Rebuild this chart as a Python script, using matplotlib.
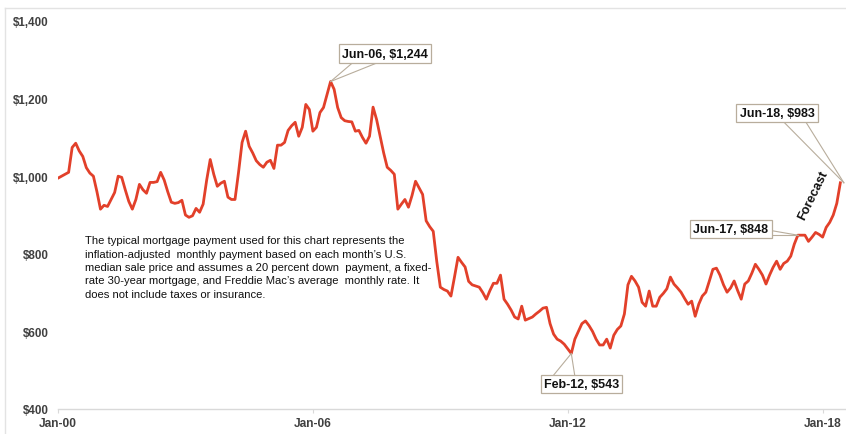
import numpy as np
import matplotlib.pyplot as plt
from matplotlib.lines import Line2D

# monthly typical mortgage payment, Jan-00 .. Jun-18 (last 12 months = forecast)
payment = [
    995, 1000, 1005, 1010, 1074, 1085, 1065, 1051, 1022, 1008, 1000, 960,    # 2000
    915, 925, 922, 940, 958, 1000, 997, 965, 935, 915, 940, 979,             # 2001
    965, 956, 984, 984, 986, 1010, 990, 960, 933, 930, 932, 938,             # 2002
    900, 894, 898, 917, 907, 928, 990, 1043, 1005, 974, 982, 987,            # 2003
    946, 940, 940, 1010, 1087, 1116, 1077, 1060, 1040, 1030, 1023, 1036,     # 2004
    1041, 1020, 1080, 1080, 1087, 1118, 1130, 1139, 1103, 1126, 1185, 1172,  # 2005
    1116, 1126, 1164, 1177, 1210, 1244, 1224, 1177, 1151, 1143, 1141, 1140,  # 2006
    1116, 1118, 1100, 1085, 1103, 1178, 1146, 1103, 1060, 1023, 1015, 1005,  # 2007
    915, 928, 940, 920, 950, 987, 970, 953, 885, 870, 858, 780,              # 2008
    714, 708, 704, 691, 740, 791, 778, 766, 729, 720, 717, 714,              # 2009
    700, 683, 705, 724, 724, 745, 683, 670, 655, 637, 632, 665,              # 2010
    629, 633, 637, 645, 652, 660, 662, 620, 593, 580, 575, 567,              # 2011
    555, 543, 580, 600, 620, 627, 615, 600, 580, 565, 565, 580,              # 2012
    557, 590, 605, 614, 645, 720, 742, 730, 714, 675, 665, 704,              # 2013
    665, 665, 688, 698, 710, 740, 722, 712, 701, 685, 670, 678,              # 2014
    639, 670, 691, 701, 730, 760, 763, 745, 720, 701, 712, 730,              # 2015
    705, 683, 722, 730, 750, 773, 760, 745, 722, 745, 765, 781,              # 2016
    760, 775, 781, 794, 825, 848, 848, 848, 832, 843, 855, 850,              # 2017
    843, 868, 881, 900, 930, 983,                                            # 2018
]
months = np.arange(len(payment))

tick_months = [0, 72, 144, 216]
tick_labels = ['Jan-00', 'Jan-06', 'Jan-12', 'Jan-18']
y_ticks = [400, 600, 800, 1000, 1200, 1400]

# callouts: label, point (month, value)
callouts = [
    ('Jun-06, $1,244', 77, 1244),
    ('Feb-12, $543', 145, 543),
    ('Jun-17, $848', 209, 848),
    ('Jun-18, $983', 222, 983),
]

note = ("The typical mortgage payment used for this chart represents the\n"
        "inflation-adjusted  monthly payment based on each month\u2019s U.S.\n"
        "median sale price and assumes a 20 percent down  payment, a fixed-\n"
        "rate 30-year mortgage, and Freddie Mac\u2019s average  monthly rate. It\n"
        "does not include taxes or insurance.")

plt.rcParams['font.family'] = ['Liberation Sans', 'DejaVu Sans']

fig = plt.figure(figsize=(8.46, 4.35), dpi=100)
ax = fig.add_axes([58 / 846, 25 / 435, 788 / 846, 388 / 435])

ax.plot(months, payment, color='#e2402a', linewidth=2.0, solid_joinstyle='round', zorder=3)

ax.set_xlim(0, 222.6)
ax.set_ylim(400, 1400)
ax.set_xticks(tick_months)
ax.set_xticklabels(tick_labels)
ax.set_yticks(y_ticks)
ax.set_yticklabels(['${:,}'.format(v) for v in y_ticks])

for s in ['top', 'right', 'left']:
    ax.spines[s].set_visible(False)
ax.spines['bottom'].set_color('#d9d9d9')
ax.spines['bottom'].set_linewidth(1.0)
ax.tick_params(axis='x', length=3, color='#d9d9d9', labelsize=8.6, labelcolor='#404040', pad=3)
ax.tick_params(axis='y', length=0, labelsize=8.4, labelcolor='#404040', pad=7)
for lab in ax.get_xticklabels() + ax.get_yticklabels():
    lab.set_fontweight('bold')

# callout boxes (box centre, leader anchor points on box edge)
box_pos = [(92.4, 1316), (147.9, 464), (190.1, 863), (203.1, 1162)]
anchors = [[(83.3, 1293), (90.4, 1293)],
           [(139.8, 485), (146.0, 485)],
           [(202.0, 859), (202.0, 848)],
           [(205.1, 1139), (211.3, 1139)]]
edge = '#b8ad9c'
for (label, mx, my), (bx, by), anc in zip(callouts, box_pos, anchors):
    for axx, ayy in anc:
        ax.plot([mx, axx], [my, ayy], color=edge, linewidth=0.8, zorder=4)
    ax.text(bx, by, label, ha='center', va='center', fontsize=9, fontweight='bold',
            color='#111111', zorder=5,
            bbox=dict(boxstyle='square,pad=0.25', facecolor='white', edgecolor=edge, linewidth=0.9))

ax.text(213.2, 953, 'Forecast', rotation=64, ha='center', va='center',
        fontsize=9.2, fontweight='bold', color='#111111', zorder=5)

ax.text(7.6, 848, note, ha='left', va='top', fontsize=8.1, color='#111111',
        linespacing=1.42, zorder=2)

# light chart-area border (top and left)
fig.add_artist(Line2D([5 / 846, 1], [1 - 9 / 435, 1 - 9 / 435], color='#e3e3e3', linewidth=1.0))
fig.add_artist(Line2D([5 / 846, 5 / 846], [0, 1 - 9 / 435], color='#e3e3e3', linewidth=1.0))

fig.savefig('out.png', dpi=100)
